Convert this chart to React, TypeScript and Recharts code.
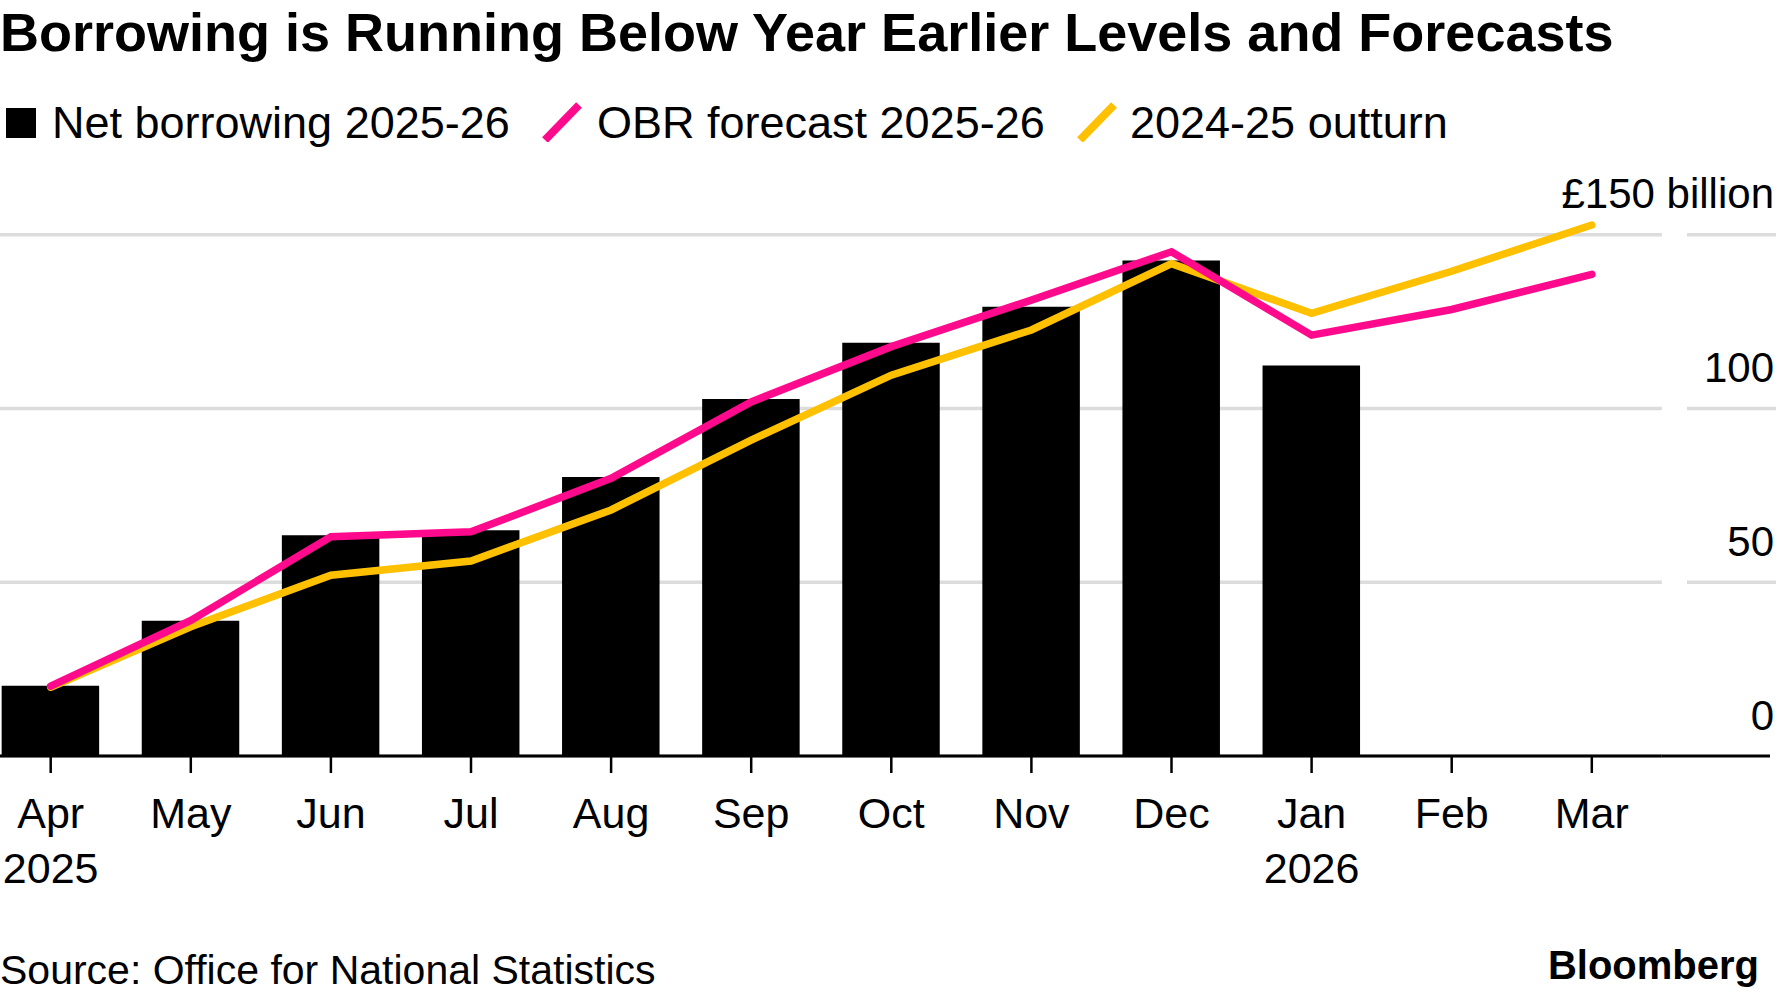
import { Bar, CartesianGrid, ComposedChart, Line, XAxis, YAxis } from "recharts";

const months = ["Apr", "May", "Jun", "Jul", "Aug", "Sep", "Oct", "Nov", "Dec", "Jan", "Feb", "Mar"];
const years = ["2025", "", "", "", "", "", "", "", "", "2026", "", ""];
const netBorrowing = [20.2, 38.9, 63.5, 65.0, 80.3, 102.7, 118.9, 129.3, 142.6, 112.4, null, null];
const obrForecast = [20.1, 39.0, 63.1, 64.5, 79.9, 101.9, 117.8, 131.2, 145.1, 121.1, 128.5, 138.6];
const outturn = [19.8, 37.2, 52.0, 56.1, 70.8, 90.9, 109.6, 122.6, 141.7, 127.4, 139.5, 152.8];
const yTicks = [0, 50, 100, 150];

const data = months.map((m, i) => ({
  month: m,
  year: years[i],
  net: netBorrowing[i],
  obr: obrForecast[i],
  prev: outturn[i],
}));

const FONT = '"Liberation Sans", Arial, Helvetica, sans-serif';
const PINK = "#ff0a8c";
const YELLOW = "#ffc000";
const GRID = "#dcdcdc";

const MonthTick = (props: any) => {
  const { x, y, index } = props;
  return (
    <g>
      <text x={x} y={y} dy={53} textAnchor="middle" fontSize={43} fill="#000" fontFamily={FONT}>
        {months[index]}
      </text>
      {years[index] && (
        <text x={x} y={y} dy={108} textAnchor="middle" fontSize={43} fill="#000" fontFamily={FONT}>
          {years[index]}
        </text>
      )}
    </g>
  );
};

const ValueTick = (props: any) => {
  const { x, y, payload } = props;
  const v = payload.value;
  return (
    <g>
      {v === 0 ? (
        <line x1={x} x2={1770} y1={y} y2={y} stroke="#000" strokeWidth={3} />
      ) : (
        <line x1={1687} x2={1776} y1={y} y2={y} stroke={GRID} strokeWidth={3.5} />
      )}
      <text x={1774} y={y - 26.5} textAnchor="end" fontSize={42} fill="#000" fontFamily={FONT}>
        {v === 150 ? "£150 billion" : v}
      </text>
    </g>
  );
};

const Slash = ({ left, color }: { left: number; color: string }) => (
  <svg width={40} height={40} style={{ position: "absolute", left, top: 102 }}>
    <line x1={3} y1={38} x2={37} y2={3} stroke={color} strokeWidth={8} />
  </svg>
);

const legendText = (left: number, label: string) => (
  <div style={{ position: "absolute", left, top: 100, fontSize: 45, lineHeight: 1, whiteSpace: "nowrap" }}>
    {label}
  </div>
);

export default function App() {
  return (
    <div
      style={{
        position: "absolute",
        left: 0,
        top: 0,
        width: 1776,
        height: 996,
        background: "#fff",
        fontFamily: FONT,
        color: "#000",
        overflow: "hidden",
      }}
    >
      <ComposedChart
        width={1776}
        height={996}
        data={data}
        margin={{ top: 200, right: 0, bottom: 90, left: -19.35 }}
        barCategoryGap={0}
      >
        <CartesianGrid horizontal vertical={false} syncWithTicks stroke={GRID} strokeWidth={3.5} />
        <XAxis
          dataKey="month"
          height={150}
          interval={0}
          tickSize={17}
          tickLine={{ stroke: "#000", strokeWidth: 2.5 }}
          axisLine={{ stroke: "#000", strokeWidth: 3 }}
          tick={<MonthTick />}
        />
        <YAxis
          orientation="right"
          width={114.15}
          domain={[0, 160]}
          ticks={yTicks}
          axisLine={false}
          tickLine={false}
          tickSize={0}
          tickMargin={0}
          tick={<ValueTick />}
        />
        <Bar dataKey="net" fill="#000" barSize={97.5} isAnimationActive={false} />
        <Line
          type="linear"
          dataKey="prev"
          stroke={YELLOW}
          strokeWidth={7.5}
          strokeLinecap="round"
          dot={false}
          isAnimationActive={false}
        />
        <Line
          type="linear"
          dataKey="obr"
          stroke={PINK}
          strokeWidth={7.5}
          strokeLinecap="round"
          dot={false}
          isAnimationActive={false}
        />
      </ComposedChart>

      <div
        style={{
          position: "absolute",
          left: 0,
          top: 5,
          fontSize: 54,
          fontWeight: 700,
          lineHeight: 1,
          whiteSpace: "nowrap",
        }}
      >
        Borrowing is Running Below Year Earlier Levels and Forecasts
      </div>

      <div style={{ position: "absolute", left: 6, top: 108, width: 30, height: 30, background: "#000" }} />
      {legendText(52, "Net borrowing 2025-26")}
      <Slash left={542} color={PINK} />
      {legendText(597, "OBR forecast 2025-26")}
      <Slash left={1077} color={YELLOW} />
      {legendText(1130, "2024-25 outturn")}

      <div style={{ position: "absolute", left: 0, top: 950, fontSize: 41, lineHeight: 1, whiteSpace: "nowrap" }}>
        Source: Office for National Statistics
      </div>
      <div
        style={{
          position: "absolute",
          right: 17,
          top: 945,
          fontSize: 40,
          fontWeight: 700,
          lineHeight: 1,
          whiteSpace: "nowrap",
        }}
      >
        Bloomberg
      </div>
    </div>
  );
}
